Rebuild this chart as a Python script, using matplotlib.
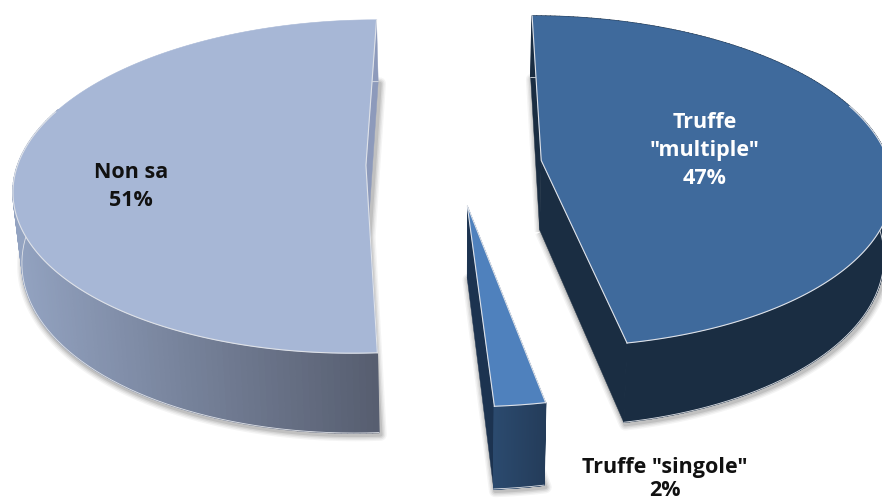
import numpy as np
import matplotlib
matplotlib.use("Agg")
import matplotlib.pyplot as plt
from matplotlib.collections import PolyCollection
from matplotlib.colors import to_rgb
from matplotlib.patches import Polygon

# data
labels = ['Non sa', 'Truffe\n"multiple"', 'Truffe "singole"']
shares = [51, 47, 2]
pct_labels = ['51%', '47%', '2%']

# camera (pixels): vanishing point and depth scale
VX = 460.0
HORIZON = -1125.0
Q0 = 0.000775
K = 0.0000985
A = 0.270
DROP = 0.054
SHRINK = 0.98

# order around the pie is multiple -> singole -> non sa, clockwise from the top
draw_order = [0, 2, 1]
slice_b = {0: -0.0729, 1: 0.0632, 2: 0.0055}
slice_y = {0: 0.0, 1: 0.03, 2: -0.24}
top_col = {0: '#a7b7d6', 1: '#3f6a9c', 2: '#4f81bd'}
side_from = {0: '#93a3c1', 1: '#1a2d42', 2: '#2b4a6e'}
side_to = {0: '#575e70', 1: '#1a2d42', 2: '#243c5a'}
wall_col = {0: '#8d9abb', 1: '#1a2d42', 2: '#1c3350'}


def slice_angles():
    # start angle of each slice, clockwise from the top, in degrees
    spans = {i: s * 3.6 for i, s in enumerate(shares)}
    start = {1: 0.0}
    start[2] = start[1] + spans[1]
    start[0] = start[2] + spans[2]
    return start, spans


def to_screen(i, X, Y, lower=False):
    d = 1.0 / (Q0 + K * (np.asarray(Y) + slice_y[i]))
    sx = VX + d * (slice_b[i] + A * np.asarray(X))
    sy = HORIZON + d
    if lower:
        sx = VX + (sx - VX) * SHRINK
        sy = sy + DROP * d
    return np.column_stack([sx, sy])


def mix(c1, c2, t):
    a, b = np.array(to_rgb(c1)), np.array(to_rgb(c2))
    return tuple(a + (b - a) * t)


fig = plt.figure(figsize=(8.82, 5.01), dpi=100)
ax = fig.add_axes([0, 0, 1, 1])
ax.set_xlim(0, 882)
ax.set_ylim(501, 0)
ax.axis('off')

start, spans = slice_angles()
EDGE = '#dfe2e8'

for i in draw_order:
    th = np.radians(np.linspace(start[i], start[i] + spans[i], 200))
    X = np.sin(th)
    Y = np.cos(th)
    # face outlines, apex first
    X_f = np.r_[0, X]
    Y_f = np.r_[0, Y]
    top = to_screen(i, X_f, Y_f)
    low = to_screen(i, X_f, Y_f, lower=True)

    # soft shadow under the lower face
    for w, al in [(9, 0.05), (7, 0.07), (5, 0.09), (3, 0.12)]:
        ax.add_patch(Polygon(low + [1.5, 2], closed=True, fc='none', ec='#303030',
                             lw=w, alpha=al, joinstyle='round', zorder=1))

    z = 2 + draw_order.index(i) * 3
    # radial walls
    for j in (1, len(X_f) - 1):
        wall = np.vstack([top[0], top[j], low[j], low[0]])
        ax.add_patch(Polygon(wall, closed=True, fc=wall_col[i], ec=wall_col[i], lw=0.3, zorder=z))

    # outer band, shaded left to right on screen
    n = len(th) - 1
    front = [k for k in range(n) if Y[k] < 0.35 or i == 1]
    x_lo, x_hi = top[1:, 0].min(), top[1:, 0].max()
    quads = []
    cols = []
    for k in front:
        t = (top[k + 1, 0] - x_lo) / (x_hi - x_lo)
        quads.append(np.vstack([top[k + 1], top[k + 2], low[k + 2], low[k + 1]]))
        cols.append(mix(side_from[i], side_to[i], t))
    ax.add_collection(PolyCollection(quads, facecolors=cols, edgecolors=cols, linewidths=1.0, zorder=z + 1))
    ax.plot(low[1:, 0], low[1:, 1], color=EDGE, lw=0.6, zorder=z + 1)

    # top face, light line only along the front rim and the radial edges
    ax.add_patch(Polygon(top, closed=True, fc=top_col[i], ec=top_col[i], lw=0.4, zorder=z + 2))
    rim = Y_f < 0.35
    rim[0] = False
    ax.plot(top[rim, 0], top[rim, 1], color=EDGE, lw=0.8, zorder=z + 2)
    ax.plot(top[[1, 0, -1], 0], top[[1, 0, -1], 1], color=EDGE, lw=0.8, zorder=z + 2)

font = dict(family='Open Sans', fontweight='bold', fontsize=15.5, ha='center', va='center', zorder=30)
ax.text(131, 172, labels[0], color='#111111', **font)
ax.text(131, 200, pct_labels[0], color='#111111', **font)
ax.text(705, 136.5, labels[1], color='white', linespacing=1.4, **font)
ax.text(705, 179, pct_labels[1], color='white', **font)
ax.text(665, 467, labels[2], color='#111111', **font)
ax.text(665, 490.5, pct_labels[2], color='#111111', **font)

fig.savefig('out.png', dpi=100)
